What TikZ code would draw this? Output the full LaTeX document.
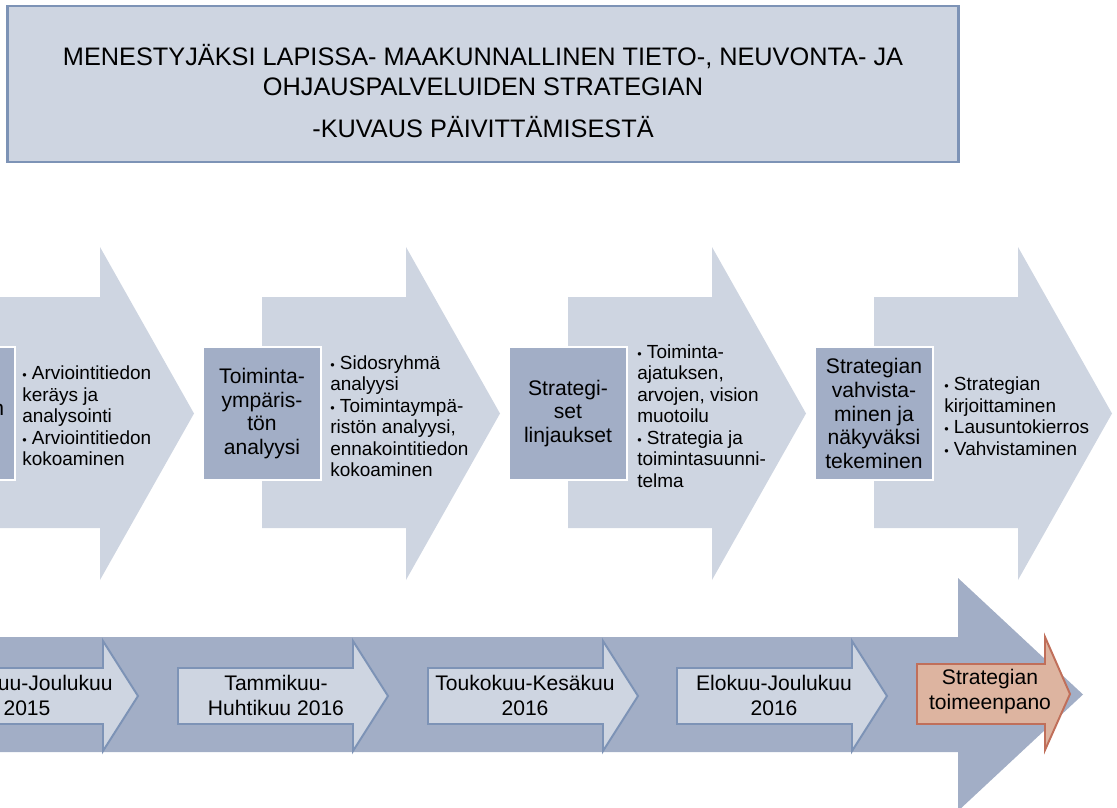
\documentclass[tikz,border=0pt]{standalone}
\usepackage{fontspec}
\setmainfont{Liberation Sans}
\definecolor{paleblue}{HTML}{CED5E1}
\definecolor{midblue}{HTML}{A2AEC6}
\definecolor{edgeblue}{HTML}{7D93B6}
\definecolor{peach}{HTML}{DDB4A0}
\definecolor{rust}{HTML}{C06F5A}
\newcommand{\dotitem}{{\fontsize{9pt}{9pt}\selectfont•}\ }

\begin{document}
\begin{tikzpicture}[x=0.025cm, y=-0.025cm,
    titlebox/.style={draw=edgeblue, fill=paleblue, line width=2pt,
      minimum width=23.75cm, minimum height=3.9cm},
    titletext/.style={align=center, inner sep=0pt,
      font={\fontsize{18pt}{21.3pt}\selectfont}},
    labelbox/.style={draw=white, fill=midblue, line width=1.4pt, align=center,
      minimum width=2.95cm, minimum height=3.325cm, inner sep=0pt,
      font={\fontsize{15pt}{17pt}\selectfont}},
    bullettext/.style={anchor=west, align=left, inner sep=0pt,
      font={\fontsize{13.5pt}{15.3pt}\selectfont}},
    datetext/.style={align=center, inner sep=0pt,
      font={\fontsize{15pt}{17.8pt}\selectfont}},
    steparrow/.style={draw=edgeblue, fill=paleblue, line width=1.4pt},
    finalarrow/.style={draw=rust, fill=peach, line width=1.4pt},
  ]
  \useasboundingbox (0,0) rectangle (1117,808);
  \clip (0,0) rectangle (1117,808);

  \node[titlebox] (titlebox) at (483,84) {};
  \node[titletext] (title) at (483,91)
    {MENESTYJÄKSI LAPISSA- MAAKUNNALLINEN TIETO-, NEUVONTA- JA\\
     OHJAUSPALVELUIDEN STRATEGIAN\\[9pt]
     -KUVAUS PÄIVITTÄMISESTÄ};

  % phases
  \foreach \L in {-44,262,568,874}
    \fill[paleblue] (\L,297) -- (\L+144,297) -- (\L+144,247) -- (\L+238,413.5)
      -- (\L+144,580) -- (\L+144,528) -- (\L,528) -- cycle;

  \node[labelbox] (phase1) at (-44,413.5) {};
  \node[labelbox, draw=none, fill=none, minimum width=0pt, minimum height=0pt,
    anchor=east] (phase1end) at (5,410) {n};
  \node[labelbox] (phase2) at (262,413.5) {Toiminta-\\ympäris-\\tön\\analyysi};
  \node[labelbox] (phase3) at (568,413.5) {Strategi-\\set\\linjaukset};
  \node[labelbox] (phase4) at (874,413.5)
    {Strategian\\vahvista-\\minen ja\\näkyväksi\\tekeminen};

  \node[bullettext] (tasks1) at (22,416)
    {\dotitem Arviointitiedon\\keräys ja\\analysointi\\\dotitem Arviointitiedon\\kokoaminen};
  \node[bullettext] (tasks2) at (330,416)
    {\dotitem Sidosryhmä\\analyysi\\\dotitem Toimintaympä-\\ristön analyysi,\\ennakointitiedon\\kokoaminen};
  \node[bullettext] (tasks3) at (637,416)
    {\dotitem Toiminta-\\ajatuksen,\\arvojen, vision\\muotoilu\\\dotitem Strategia ja\\toimintasuunni-\\telma};
  \node[bullettext] (tasks4) at (944,416)
    {\dotitem Strategian\\kirjoittaminen\\\dotitem Lausuntokierros\\\dotitem Vahvistaminen};

  % timeline
  \fill[midblue] (-5,637) -- (958,637) -- (958,578) -- (1083,694.5)
    -- (958,811) -- (958,752) -- (-5,752) -- cycle;

  \foreach \L in {-72,178,428,677}
    \draw[steparrow] (\L,668) -- (\L+175,668) -- (\L+175,641) -- (\L+210,696)
      -- (\L+175,751) -- (\L+175,724) -- (\L,724) -- cycle;

  \node[datetext, anchor=east] (date1a) at (113,683) {uu-Joulukuu};
  \node[datetext] (date1b) at (27,708) {2015};
  \node[datetext] (date2) at (276,695.5) {Tammikuu-\\Huhtikuu 2016};
  \node[datetext] (date3) at (525,695.5) {Toukokuu-Kesäkuu\\2016};
  \node[datetext] (date4) at (774,695.5) {Elokuu-Joulukuu\\2016};

  \draw[finalarrow] (917,664) -- (1045,664) -- (1045,637) -- (1070,694)
    -- (1045,750) -- (1045,724) -- (917,724) -- cycle;
  \node[datetext] (launch) at (990,692) {Strategian\\toimeenpano};

\end{tikzpicture}
\end{document}
